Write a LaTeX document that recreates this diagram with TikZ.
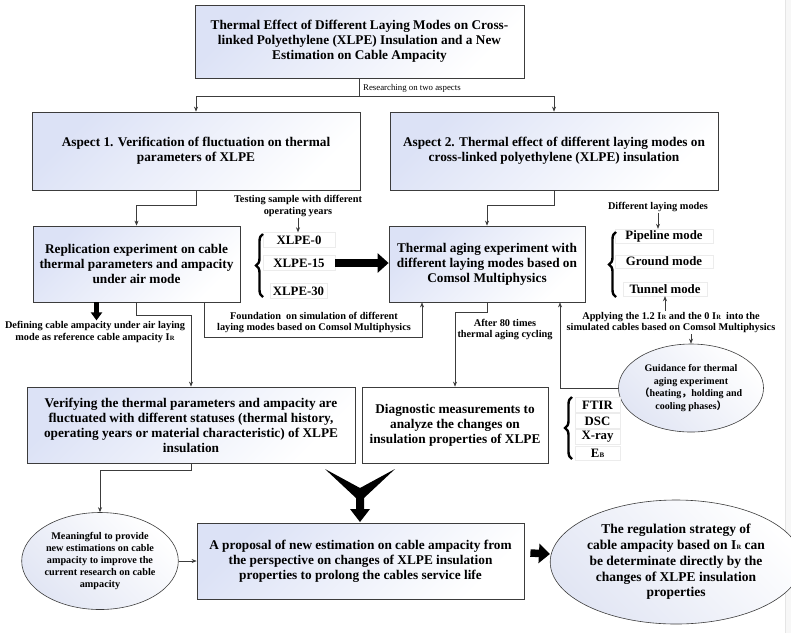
\documentclass[tikz,border=0pt]{standalone}
\usepackage{fontspec}
\setmainfont{Liberation Serif}
\newfontfamily\cjkfont{Noto Sans CJK SC}
\usepackage{tikz}
\usetikzlibrary{arrows.meta,positioning,shapes.geometric,decorations.pathreplacing}
\usepackage{xcolor}
\definecolor{edgecol}{RGB}{60,60,60}
\definecolor{shadecol}{RGB}{220,226,246}
\definecolor{ovalcol}{RGB}{226,230,244}
\definecolor{tagcol}{RGB}{236,236,236}
\newcommand{\Iref}{I\kern0.3pt{\fontsize{6.5}{6.5}\selectfont R}}
\newcommand{\Ebd}{E\kern0.3pt{\fontsize{7}{7}\selectfont B}}
\tikzset{
  % shaded process box
  pbox/.style={rectangle, draw=edgecol, line width=0.8pt, top color=shadecol, bottom color=white,
               shading angle=45, align=center, font=\fontsize{13.3}{15}\selectfont\bfseries, inner sep=2pt},
  % plain process box
  wbox/.style={rectangle, draw=edgecol, line width=0.8pt, fill=white,
               align=center, font=\fontsize{13.3}{15}\selectfont\bfseries, inner sep=2pt},
  % shaded oval
  obox/.style={ellipse, draw=edgecol, line width=0.6pt, top color=white, bottom color=ovalcol,
               shading angle=-45, align=center, inner sep=0pt},
  % small item box next to a brace
  itembox/.style={rectangle, draw=tagcol, fill=white, font=\fontsize{12.8}{14}\selectfont\bfseries, inner sep=1pt},
  % side note
  sidenote/.style={align=center, font=\fontsize{10.3}{11.5}\selectfont\bfseries, inner sep=1pt},
  % thin connector
  conn/.style={draw=edgecol, line width=0.6pt, -{Stealth[length=5pt,width=4pt]}},
  link/.style={draw=edgecol, line width=0.6pt},
  % fat arrow
  fatarrow/.style={black, line width=#1, -{Triangle[length=11pt,width=19pt]}},
  fatarrow/.default={7.5pt},
  % curly brace
  bracket/.style={decorate, decoration={brace, amplitude=7pt}, line width=2.4pt},
}

\begin{document}
\begin{tikzpicture}[x=1pt, y=-1pt]
  \useasboundingbox (0,0) rectangle (791,633);
  \fill[white] (0,0) rectangle (791,633);
  \fill[gray!6] (785,0) rectangle (791,633);
  \draw[gray!20] (785.5,0) -- (785.5,633);

  % boxes
  \node[pbox, minimum width=329pt, minimum height=73pt] (title) at (359.5,41.5)
    {Thermal Effect of Different Laying Modes on Cross-\\linked Polyethylene (XLPE) Insulation and a New\\Estimation on Cable Ampacity};
  \node[pbox, minimum width=328pt, minimum height=78pt] (asp1) at (196,151)
    {Aspect 1. Verification of fluctuation on thermal\\parameters of XLPE};
  \node[pbox, minimum width=328pt, minimum height=78pt] (asp2) at (554,151)
    {Aspect 2. Thermal effect of different laying modes on\\cross-linked polyethylene (XLPE) insulation};
  \node[pbox, minimum width=207pt, minimum height=76pt] (repl) at (136.5,264)
    {Replication experiment on cable\\thermal parameters and ampacity\\under air mode};
  \node[pbox, minimum width=196pt, minimum height=76pt] (aging) at (487,264)
    {Thermal aging experiment with\\different laying modes based on\\Comsol Multiphysics};
  \node[pbox, minimum width=328pt, minimum height=76pt] (verif) at (191,425)
    {Verifying the thermal parameters and ampacity are\\fluctuated with different statuses (thermal history,\\operating years or material characteristic) of XLPE\\insulation};
  \node[wbox, minimum width=186pt, minimum height=76pt] (diag) at (455,425)
    {Diagnostic measurements to\\analyze the changes on\\insulation properties of XLPE};
  \node[pbox, minimum width=327pt, minimum height=76pt] (prop) at (360.5,561)
    {A proposal of new estimation on cable ampacity from\\the perspective on changes of XLPE insulation\\properties to prolong the cables service life};

  % ovals
  \node[obox, minimum width=132pt, minimum height=88pt, font=\fontsize{10}{12.5}\selectfont\bfseries] (guide) at (691,388)
    {Guidance for thermal\\aging experiment\\{\cjkfont （}heating{\cjkfont ，}holding and\\cooling phases{\cjkfont ）}};
  \node[obox, minimum width=146pt, minimum height=97pt, font=\fontsize{10.2}{11.8}\selectfont\bfseries] (mean) at (100,561)
    {Meaningful to provide\\new estimations on cable\\ampacity to improve the\\current research on cable\\ampacity};
  \node[obox, minimum width=206pt, minimum height=124pt, font=\fontsize{13.5}{15.8}\selectfont\bfseries] (reg) at (676,562)
    {The regulation strategy of\\cable ampacity based on \Iref{} can\\be determinate directly by the\\changes of XLPE insulation\\properties};

  % items
  \node[itembox, minimum width=72pt, minimum height=15pt] (xlpe0) at (299,240) {XLPE-0};
  \node[itembox, minimum width=72pt, minimum height=15pt] (xlpe15) at (299,263) {XLPE-15};
  \node[itembox, minimum width=57pt, minimum height=15pt] (xlpe30) at (298.5,291) {XLPE-30};
  \node[itembox, minimum width=98pt, minimum height=14pt] (pipe) at (664,236) {Pipeline mode};
  \node[itembox, minimum width=98pt, minimum height=13pt] (ground) at (664,261.5) {Ground mode};
  \node[itembox, minimum width=84pt, minimum height=14pt] (tunnel) at (665,289) {Tunnel mode};
  \node[itembox, minimum width=45pt, minimum height=15pt] (ftir) at (597.5,405) {FTIR};
  \node[itembox, minimum width=45pt, minimum height=15pt] (dsc) at (597.5,421) {DSC};
  \node[itembox, minimum width=45pt, minimum height=15pt] (xray) at (597.5,437) {X-ray};
  \node[itembox, minimum width=45pt, minimum height=14pt] (eb) at (597.5,453) {\Ebd};

  % braces
  \draw[bracket] (263,297) -- (263,234);
  \draw[bracket] (616,297) -- (616,232);
  \draw[bracket] (572,459) -- (572,397);

  % notes
  \node[anchor=west, font=\fontsize{8.8}{10}\selectfont, inner sep=1pt] (research) at (362,88) {Researching on two aspects};
  \node[sidenote] (testing) at (298,206) {Testing sample with different\\operating years};
  \node[sidenote] (modes) at (658,207) {Different laying modes};
  \node[sidenote] (defining) at (95,332) {Defining cable ampacity under air laying\\mode as reference cable ampacity \Iref};
  \node[sidenote] (found) at (314,322.5) {Foundation\ \ on simulation of different\\laying modes based on Comsol Multiphysics};
  \node[sidenote] (cycling) at (505,329.5) {After 80 times\\thermal aging cycling};
  \node[sidenote] (apply) at (671,322.5) {Applying the 1.2 \Iref{} and the 0 \Iref\ \ into the\\simulated cables based on Comsol Multiphysics};

  % connectors
  \coordinate (split) at (359.5,96);
  \draw[link] (title.south) -- (split);
  \draw[conn] (split) -| (asp1.north);
  \draw[conn] (split) -| (asp2.north);
  \draw[conn] (asp1.south) -- ++(0,15) -| (repl.north);
  \draw[conn] (asp2.south) -- ++(0,15) -| (aging.north);
  \draw[conn] (testing.south) -- (testing.south |- xlpe0.north);
  \draw[conn] (modes.south) -- (modes.south |- pipe.north);
  \draw[conn] (repl.south) -- ++(0,13) -| (verif.north);
  \draw[conn] ([xshift=68pt]repl.south) -- ++(0,35) -| ([xshift=-65pt]aging.south);
  \draw[conn] (aging.south) -- ++(0,10) -| (diag.north);
  \draw[conn] (guide.west) -| ([xshift=73pt]aging.south);
  \draw[conn] (apply.north -| tunnel.south) -- (tunnel.south);
  \draw[conn] (apply.south -| guide.north) -- (guide.north);
  \draw[conn] (verif.south) -- ++(0,7) -| (mean.north);
  \draw[conn] (mean.east) -- (prop.west);

  % fat arrows
  \draw[fatarrow] (xlpe15.east) -- (xlpe15.east -| aging.west);
  \draw[fatarrow] ([shift={(6pt,8pt)}]prop.east) -- ([yshift=8pt]reg.west);
  \draw[black, line width=4.5pt, -{Triangle[length=8pt,width=11pt]}] ([xshift=-40pt]repl.south) -- ++(0,18);
  % merging arrow
  \fill[black] (325,469) -- (360,488) -- (395,469) -- (364,498) -- (364,509) -- (370,509)
    -- (360,522) -- (350,509) -- (356,509) -- (356,498) -- cycle;
\end{tikzpicture}
\end{document}
